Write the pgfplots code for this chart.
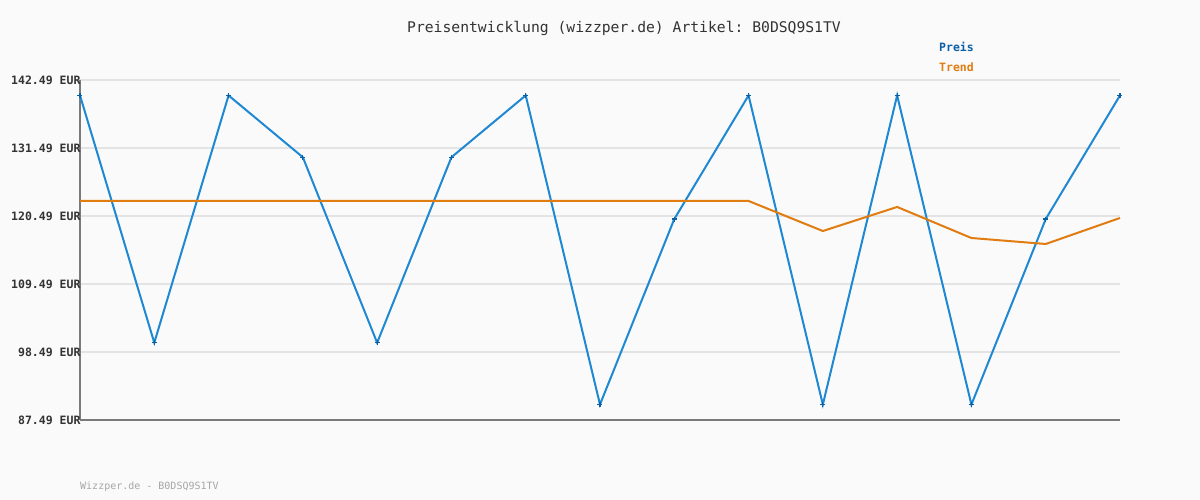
\documentclass[border=0pt]{standalone}
\usepackage{fontspec}
\setmainfont{DejaVu Sans Mono}
\usepackage{pgfplots}
\pgfplotsset{compat=1.18}

\definecolor{bgc}{HTML}{FAFAFA}
\definecolor{preis}{HTML}{1E88D2}
\definecolor{preismark}{HTML}{0B5FA5}
\definecolor{trend}{HTML}{E07C10}
\definecolor{gridc}{HTML}{E4E4E4}
\definecolor{axisc}{HTML}{7A7A7A}

\begin{document}
\frenchspacing
\begin{tikzpicture}
\fill[bgc] (0,0) rectangle (1200pt,500pt);
\begin{axis}[
    at={(80pt,80pt)}, anchor=south west,
    scale only axis,
    width=1040pt, height=340pt,
    xmin=0, xmax=14,
    ymin=87.49, ymax=142.49,
    axis lines*=left,
    axis line style={axisc, line width=2pt, -},
    xtick=\empty,
    ytick={87.49,98.49,109.49,120.49,131.49,142.49},
    yticklabels={87.49 EUR,98.49 EUR,109.49 EUR,120.49 EUR,131.49 EUR,142.49 EUR},
    yticklabel style={font=\fontsize{11.5}{12}\selectfont\bfseries, text=black!80, anchor=east, xshift=4pt},
    major tick length=0pt,
    ymajorgrids,
    grid style={gridc, line width=2pt},
    clip=false,
]
\addplot[preis, line width=2pt, mark=+, mark size=2.5pt, mark options={preismark, line width=1.2pt}] coordinates {
    (0,139.99) (1,99.99) (2,139.99) (3,129.99) (4,99.99) (5,129.99) (6,139.99)
    (7,89.99) (8,119.99) (9,139.99) (10,89.99) (11,139.99) (12,89.99) (13,119.99) (14,139.99)
};
\addplot[trend, line width=2pt] coordinates {
    (0,122.92) (1,122.92) (2,122.92) (3,122.92) (4,122.92) (5,122.92) (6,122.92)
    (7,122.92) (8,122.92) (9,122.92) (10,118.06) (11,121.95) (12,116.93) (13,115.96) (14,120.17)
};
\end{axis}
\node[font=\fontsize{14.7}{16}\selectfont, text=black!80] at (624pt,472pt) {Preisentwicklung (wizzper.de) Artikel: B0DSQ9S1TV};
\node[font=\fontsize{11.5}{12}\selectfont\bfseries, text=preismark, anchor=west, inner sep=0pt] at (939pt,453pt) {Preis};
\node[font=\fontsize{11.5}{12}\selectfont\bfseries, text=trend, anchor=west, inner sep=0pt] at (939pt,433pt) {Trend};
\node[font=\fontsize{10}{11}\selectfont, text=black!35, anchor=west, inner sep=0pt] at (80pt,13pt) {Wizzper.de - B0DSQ9S1TV};
\end{tikzpicture}
\end{document}
